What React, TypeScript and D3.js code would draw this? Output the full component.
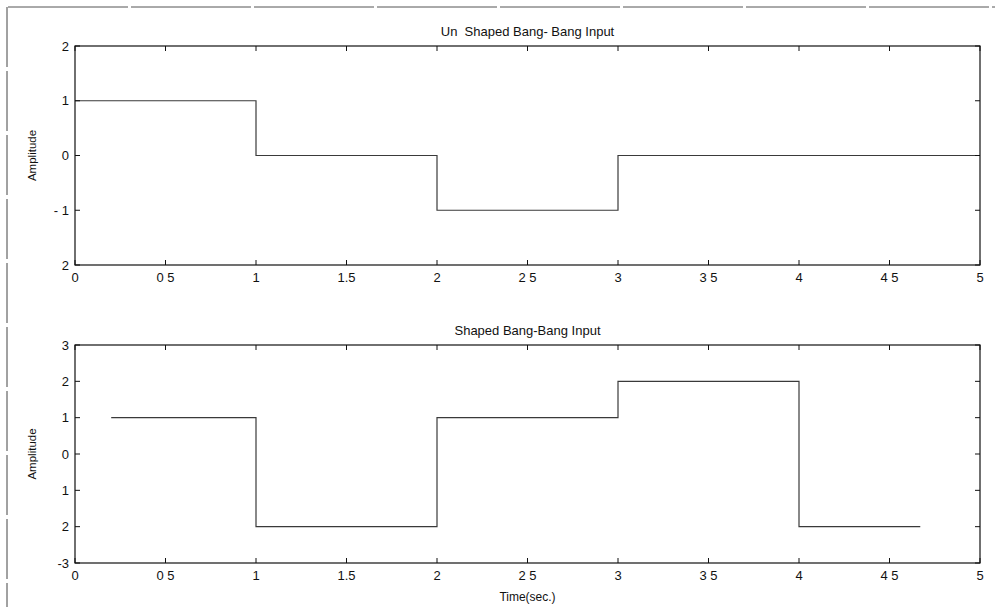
import React from "react";
import * as d3 from "d3";

const topTimes = [0, 1, 2, 3, 5];
const topValues = [1, 0, -1, 0, 0];
const bottomTimes = [0.2, 1, 2, 3, 4, 4.67];
const bottomValues = [1, -2, 1, 2, -2, -2];

const xTicks = [0, 0.5, 1, 1.5, 2, 2.5, 3, 3.5, 4, 4.5, 5];
const xTickLabels = ["0", "0 5", "1", "1.5", "2", "2 5", "3", "3 5", "4", "4 5", "5"];
const topYTicks = [2, 1, 0, -1, -2];
const topYTickLabels = ["2", "1", "0", "- 1", "2"];
const bottomYTicks = [3, 2, 1, 0, -1, -2, -3];
const bottomYTickLabels = ["3", "2", "1", "0", "1", "2", "-3"];

const topTitle = "Un  Shaped Bang- Bang Input";
const bottomTitle = "Shaped Bang-Bang Input";
const yLabel = "Amplitude";
const xLabel = "Time(sec.)";

const W = 995;
const H = 607;
const FONT = "'Liberation Sans', Arial, Helvetica, sans-serif";

type PanelProps = {
  times: number[];
  values: number[];
  yDomain: [number, number];
  yTicks: number[];
  yTickLabels: string[];
  top: number;
  bottom: number;
  title: string;
  showXLabel: boolean;
};

function Panel({ times, values, yDomain, yTicks, yTickLabels, top, bottom, title, showXLabel }: PanelProps) {
  const left = 75;
  const right = 980;
  const x = d3.scaleLinear().domain([0, 5]).range([left, right]);
  const y = d3.scaleLinear().domain(yDomain).range([bottom, top]);
  const pts: [number, number][] = times.map((t, i) => [t, values[i]]);
  const line = d3
    .line<[number, number]>()
    .x((d) => x(d[0]))
    .y((d) => y(d[1]))
    .curve(d3.curveStepAfter);
  const tl = 5;
  return (
    <g>
      <path d={line(pts) || ""} fill="none" stroke="#3a3a3a" strokeWidth={1.2} />
      <rect x={left} y={top} width={right - left} height={bottom - top} fill="none" stroke="#111" strokeWidth={1.2} />
      {xTicks.map((t, i) => (
        <g key={"x" + i}>
          <line x1={x(t)} x2={x(t)} y1={bottom} y2={bottom - tl} stroke="#111" />
          <line x1={x(t)} x2={x(t)} y1={top} y2={top + tl} stroke="#111" />
          <text x={x(t)} y={bottom + 17} textAnchor="middle" fontSize={13} fontFamily={FONT} fill="#111" style={{ whiteSpace: "pre" }}>
            {xTickLabels[i]}
          </text>
        </g>
      ))}
      {yTicks.map((v, i) => (
        <g key={"y" + i}>
          <line x1={left} x2={left + tl} y1={y(v)} y2={y(v)} stroke="#111" />
          <line x1={right} x2={right - tl} y1={y(v)} y2={y(v)} stroke="#111" />
          <text x={left - 6} y={y(v)} dy="0.35em" textAnchor="end" fontSize={13} fontFamily={FONT} fill="#111" style={{ whiteSpace: "pre" }}>
            {yTickLabels[i]}
          </text>
        </g>
      ))}
      <text
        x={(left + right) / 2}
        y={top - 10}
        textAnchor="middle"
        fontSize={13}
        fontFamily={FONT}
        fill="#111"
        style={{ whiteSpace: "pre" }}
      >
        {title}
      </text>
      <text
        transform={`translate(36, ${(top + bottom) / 2}) rotate(-90)`}
        textAnchor="middle"
        fontSize={11.5}
        fontFamily={FONT}
        fill="#111"
      >
        {yLabel}
      </text>
      {showXLabel && (
        <text x={(left + right) / 2} y={bottom + 38} textAnchor="middle" fontSize={12} fontFamily={FONT} fill="#111">
          {xLabel}
        </text>
      )}
    </g>
  );
}

export default function App() {
  return (
    <svg width={W} height={H} style={{ position: "absolute", left: 0, top: 0, background: "#fff" }}>
      <rect x={0} y={0} width={W} height={H} fill="#fff" />
      <line x1={8} x2={W} y1={7} y2={7} stroke="#555" strokeWidth={1} strokeDasharray="120 3" />
      <line x1={7} x2={7} y1={7} y2={H} stroke="#444" strokeWidth={1} strokeDasharray="60 4" />
      <Panel
        times={topTimes}
        values={topValues}
        yDomain={[-2, 2]}
        yTicks={topYTicks}
        yTickLabels={topYTickLabels}
        top={46}
        bottom={265}
        title={topTitle}
        showXLabel={false}
      />
      <Panel
        times={bottomTimes}
        values={bottomValues}
        yDomain={[-3, 3]}
        yTicks={bottomYTicks}
        yTickLabels={bottomYTickLabels}
        top={345}
        bottom={563}
        title={bottomTitle}
        showXLabel={true}
      />
    </svg>
  );
}
